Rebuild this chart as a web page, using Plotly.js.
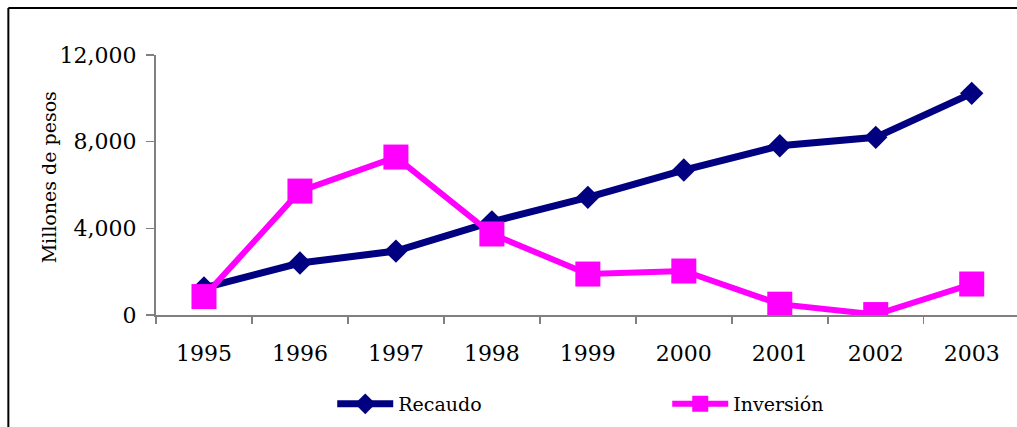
<!DOCTYPE html>
<html>
<head>
<meta charset="utf-8">
<script src="https://cdn.plot.ly/plotly-3.0.1.min.js"></script>
<style>html,body{margin:0;padding:0;background:#fff;}#chart{width:1017px;height:427px;}</style>
</head>
<body>
<div id="chart"></div>
<script>
const years = ["1995","1996","1997","1998","1999","2000","2001","2002","2003"];
const recaudo = [1250, 2400, 2950, 4300, 5430, 6690, 7810, 8200, 10230];
const inversion = [850, 5720, 7290, 3740, 1890, 2030, 500, 20, 1430];
const yTicks = [0, 4000, 8000, 12000];
const yTickLabels = ["0", "4,000", "8,000", "12,000"];

const W = 1017, H = 427;
const mL = 155.7, mR = 0, mT = 55, mB = 112;
const pw = W - mL - mR, ph = H - mT - mB;
const catW = 96;
const px = x => (x - mL) / pw;
const py = y => (H - mB - y) / ph;

const font = "DejaVu Serif, Liberation Serif, serif";

const traces = [
  {x: years, y: recaudo, name: "Recaudo", type: "scatter", mode: "lines+markers",
   line: {color: "#000080", width: 7}, marker: {symbol: "diamond", size: 18, color: "#000080"}},
  {x: years, y: inversion, name: "Inversión", type: "scatter", mode: "lines+markers",
   line: {color: "#FF00FF", width: 6}, marker: {symbol: "square", size: 25, color: "#FF00FF"}}
];

const layout = {
  width: W, height: H,
  margin: {l: mL, r: mR, t: mT, b: mB, pad: 0, autoexpand: false},
  paper_bgcolor: "#fff", plot_bgcolor: "#fff",
  font: {family: font, color: "#000", size: 22},
  xaxis: {type: "category", range: [-0.5, -0.5 + pw / catW], tickson: "boundaries",
    ticks: "outside", ticklen: 7, tickcolor: "#808080", tickwidth: 1.5, ticklabelstandoff: 18,
    showline: true, linecolor: "#808080", linewidth: 2, showgrid: false, zeroline: false,
    tickfont: {family: font, size: 22}, fixedrange: true},
  yaxis: {range: [0, 12000], tickvals: yTicks, ticktext: yTickLabels,
    ticks: "outside", ticklen: 8, tickcolor: "#808080", tickwidth: 1.5, ticklabelstandoff: 5,
    showline: true, linecolor: "#808080", linewidth: 2, showgrid: false, zeroline: false,
    tickfont: {family: font, size: 22}, fixedrange: true},
  showlegend: true,
  legend: {orientation: "h", x: px(332), xanchor: "left", y: py(404), yanchor: "middle",
    font: {family: font, size: 19}, entrywidth: 264, entrywidthmode: "pixels",
    itemwidth: 56, bgcolor: "rgba(0,0,0,0)"},
  annotations: [{text: "Millones de pesos", textangle: -90, xref: "paper", yref: "paper",
    x: px(49), y: py(177), xanchor: "center", yanchor: "middle", showarrow: false,
    font: {family: font, size: 19}}],
  shapes: [
    {type: "line", xref: "paper", yref: "paper", x0: px(8), x1: px(1017), y0: py(8), y1: py(8),
     line: {color: "#000", width: 2}},
    {type: "line", xref: "paper", yref: "paper", x0: px(8), x1: px(8), y0: py(8), y1: py(427),
     line: {color: "#000", width: 2}}
  ]
};

Plotly.newPlot("chart", traces, layout, {displayModeBar: false, staticPlot: true});
</script>
</body>
</html>
